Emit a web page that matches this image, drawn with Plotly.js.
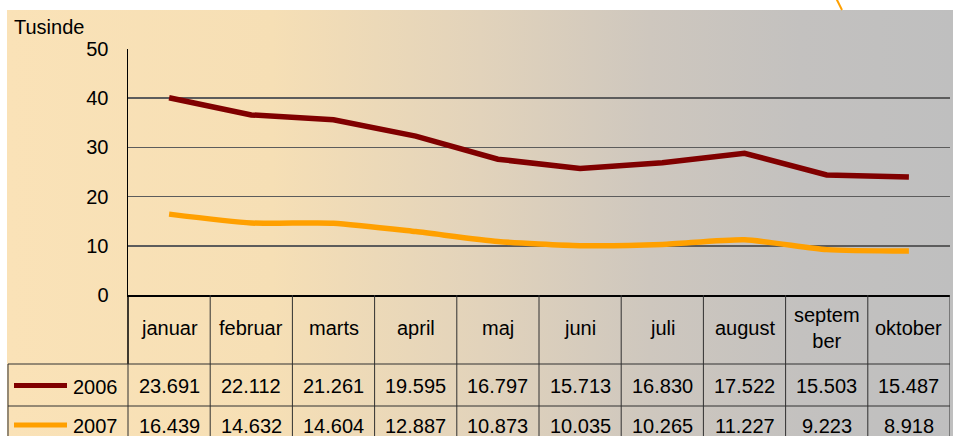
<!DOCTYPE html>
<html><head><meta charset="utf-8">
<script src="https://cdn.plot.ly/plotly-3.0.1.min.js"></script>
<style>
html,body{margin:0;padding:0;background:#ffffff;overflow:hidden;}
#bg{position:absolute;left:7px;top:10px;width:946px;height:426px;
background:linear-gradient(to right,#FAE2B7 0%,#F6DFB5 28%,#E2D3BB 50%,#CEC7BE 68%,#C3C1BF 84%,#BFBFBF 100%);}
#chart{position:absolute;left:0;top:0;width:953px;height:436px;}
</style></head>
<body><div id="bg"></div><div id="chart"></div>
<script>
const months = ['januar','februar','marts','april','maj','juni','juli','august','september','oktober'];
const monthLabels = ['januar','februar','marts','april','maj','juni','juli','august','septem<br>ber','oktober'];
const series = ['2006','2007'];
const line2006 = [40.1,36.6,35.6,32.3,27.6,25.7,26.9,28.8,24.4,24.0];
const line2007 = [16.439,14.632,14.604,12.887,10.873,10.035,10.265,11.227,9.223,8.918];
const table2006 = ['23.691','22.112','21.261','19.595','16.797','15.713','16.830','17.522','15.503','15.487'];
const table2007 = ['16.439','14.632','14.604','12.887','10.873','10.035','10.265','11.227','9.223','8.918'];
const yTicks = [0,10,20,30,40,50];
const yTitle = 'Tusinde';
const colors = ['#800000','#FFA000'];

const FONT = 'Liberation Sans, Arial, sans-serif';
const W = 953, H = 436;
const L = 128, R = 950, T = 49, B = 295;
const py = p => (B - p) / (B - T);
const px = p => (p - L) / (R - L);

const traces = [
  {x: months, y: line2006, name: series[0], type: 'scatter', mode: 'lines',
   line: {color: colors[0], width: 5.5}, hoverinfo: 'skip'},
  {x: months, y: line2007, name: series[1], type: 'scatter', mode: 'lines',
   line: {color: colors[1], width: 5.5, shape: 'spline', smoothing: 0.6}, hoverinfo: 'skip'}
];

const shapes = [];
const annotations = [];
const tl = {color: '#303030', width: 1};
// y axis extension through header row
shapes.push({type:'line', xref:'paper', yref:'paper', x0:0, x1:0, y0:py(B), y1:py(364), line:{color:'#000', width:1.5}});
// header vertical dividers
for (let i = 0; i < months.length; i++) {
  shapes.push({type:'line', xref:'x', yref:'paper', x0:i+0.5, x1:i+0.5, y0:py(B), y1:py(364), line:tl});
}
// horizontal table lines
[364, 406].forEach(v => shapes.push({type:'line', xref:'paper', yref:'paper', x0:px(8), x1:px(R), y0:py(v), y1:py(v), line:tl}));
// left border
shapes.push({type:'line', xref:'paper', yref:'paper', x0:px(8), x1:px(8), y0:py(364), y1:py(440), line:tl});
shapes.push({type:'line', xref:'paper', yref:'paper', x0:0, x1:0, y0:py(364), y1:py(440), line:tl});
for (let i = 0; i < months.length; i++) {
  shapes.push({type:'line', xref:'x', yref:'paper', x0:i+0.5, x1:i+0.5, y0:py(364), y1:py(440), line:tl});
}
// legend keys in table
const rowY = [385.5, 425];
series.forEach((s, k) => {
  shapes.push({type:'line', xref:'paper', yref:'paper', x0:px(14), x1:px(67), y0:py(rowY[k]), y1:py(rowY[k]),
    line:{color: colors[k], width: 5}});
  annotations.push({xref:'paper', yref:'paper', x:px(71), y:py(rowY[k]+1), xanchor:'left', yanchor:'middle',
    text: s, showarrow:false, font:{family:FONT, size:20, color:'#000'}});
});
// orange decorative stroke at top
shapes.push({type:'line', xref:'paper', yref:'paper', x0:px(836), x1:px(842), y0:py(-2), y1:py(10),
  line:{color:'#FFA000', width:2}});

// header labels and values
months.forEach((m, i) => {
  annotations.push({xref:'x', yref:'paper', x:m, y:py(328), xanchor:'center', yanchor:'middle',
    text: monthLabels[i], showarrow:false, font:{family:FONT, size:20, color:'#000'}});
  annotations.push({xref:'x', yref:'paper', x:m, y:py(386), xanchor:'center', yanchor:'middle',
    text: table2006[i], showarrow:false, font:{family:FONT, size:20, color:'#000'}});
  annotations.push({xref:'x', yref:'paper', x:m, y:py(426), xanchor:'center', yanchor:'middle',
    text: table2007[i], showarrow:false, font:{family:FONT, size:20, color:'#000'}});
});
// y title
annotations.push({xref:'paper', yref:'paper', x:px(12), y:py(27), xanchor:'left', yanchor:'middle',
  text: yTitle, showarrow:false, font:{family:FONT, size:20, color:'#000'}});

const layout = {
  width: W, height: H,
  margin: {l: L, r: W - R, t: T, b: H - B, pad: 0},
  paper_bgcolor: 'rgba(0,0,0,0)',
  plot_bgcolor: 'rgba(0,0,0,0)',
  showlegend: false,
  font: {family: FONT, size: 20, color: '#000'},
  xaxis: {type: 'category', range: [-0.5, months.length - 0.5], showticklabels: false, showgrid: false,
    zeroline: false, showline: true, linecolor: '#000', linewidth: 1.5, ticks: '', fixedrange: true},
  yaxis: {range: [0, 50], tickvals: yTicks, ticktext: yTicks.map(String), showgrid: true, gridcolor: '#5c5c5c',
    gridwidth: 1.5, zeroline: false, showline: true, linecolor: '#000', linewidth: 1.5, ticks: '',
    ticklabelstandoff: 14, tickfont: {family: FONT, size: 20, color: '#000'}, fixedrange: true},
  shapes: shapes,
  annotations: annotations
};

Plotly.newPlot('chart', traces, layout, {displayModeBar: false, staticPlot: true});
</script>
</body></html>
